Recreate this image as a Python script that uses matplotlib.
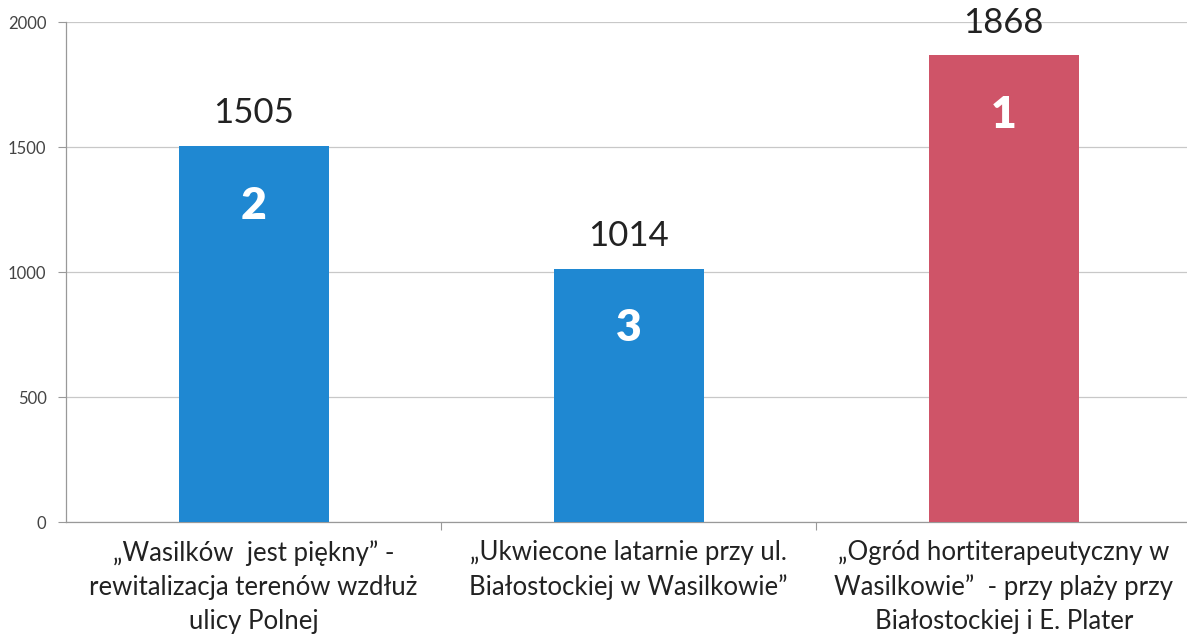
import matplotlib.pyplot as plt

# dane
kategorie = [
    "„Wasilków  jest piękny” -\nrewitalizacja terenów wzdłuż\nulicy Polnej",
    "„Ukwiecone latarnie przy ul.\nBiałostockiej w Wasilkowie”",
    "„Ogród hortiterapeutyczny w\nWasilkowie”  - przy plaży przy\nBiałostockiej i E. Plater",
]
glosy = [1505, 1014, 1868]
miejsca = ["2", "3", "1"]
kolory = ["#1f88d2", "#1f88d2", "#cf5468"]

plt.rcParams['font.family'] = ['Lato', 'DejaVu Sans']

fig = plt.figure(figsize=(11.87, 6.4), dpi=100)
ax = fig.add_axes([0.0556, 0.184, 0.948, 0.7813])

x = range(len(kategorie))
bars = ax.bar(x, glosy, width=0.4, color=kolory, zorder=3)

for b, v, m in zip(bars, glosy, miejsca):
    cx = b.get_x() + b.get_width() / 2
    ax.annotate(str(v), (cx, v), xytext=(0, 12), textcoords='offset points',
                ha='center', va='bottom', fontsize=25, color='#222222')
    ax.annotate(m, (cx, v), xytext=(0, -43), textcoords='offset points',
                ha='center', va='center', fontsize=32, fontweight='heavy', color='white')

ax.set_xlim(-0.5, 2.5)
ax.set_ylim(0, 2000)
ax.set_yticks([0, 500, 1000, 1500, 2000])
ax.yaxis.grid(True, color='#c8c8c8', linewidth=0.9, zorder=0)

ax.set_xticks([0.5, 1.5], minor=False)
ax.set_xticklabels([])
ax.set_xticks(list(x), minor=True)
ax.set_xticklabels(kategorie, minor=True, fontsize=18.5, color='#222222', linespacing=1.45)
ax.tick_params(axis='x', which='minor', length=0, pad=13)
ax.tick_params(axis='x', which='major', length=6, color='#999999')
ax.tick_params(axis='y', length=6, color='#999999', labelsize=12, labelcolor='#444444', pad=8)

for s in ['top', 'right']:
    ax.spines[s].set_visible(False)
for s in ['left', 'bottom']:
    ax.spines[s].set_color('#999999')
    ax.spines[s].set_linewidth(0.9)

fig.savefig('out.png', dpi=100)
